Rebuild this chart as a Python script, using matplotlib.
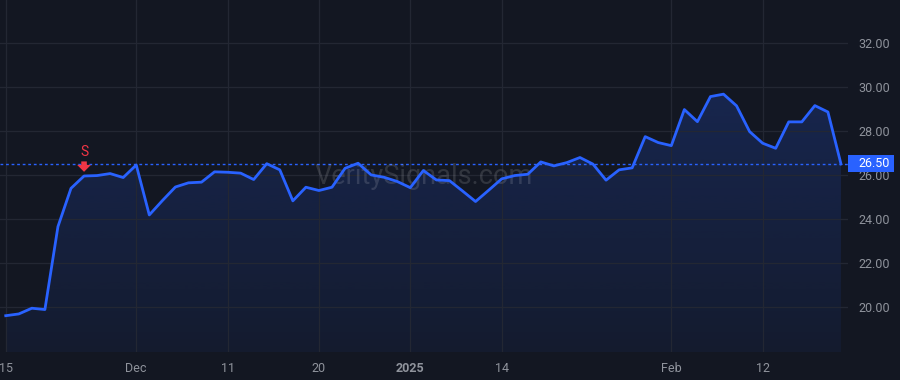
import matplotlib
matplotlib.use("Agg")
import matplotlib.pyplot as plt
import matplotlib.transforms as mtransforms
from matplotlib.patches import Rectangle
from matplotlib.colors import to_rgb
import numpy as np
import pandas as pd

# trading days shown (US market holidays skipped)
start_date = "2024-11-15"
end_date = "2025-02-21"
holidays = ["2024-11-28", "2024-12-25", "2025-01-01", "2025-01-09", "2025-01-20", "2025-02-17"]

closes = [19.60, 19.68, 19.94, 19.88, 23.65, 25.39, 25.95, 25.97, 26.06, 25.88,
          26.45, 24.18, 24.83, 25.45, 25.64, 25.67, 26.14, 26.12, 26.08, 25.79,
          26.51, 26.23, 24.82, 25.44, 25.29, 25.44, 26.30, 26.53, 26.00, 25.89,
          25.70, 25.42, 26.20, 25.77, 25.74, 25.27, 24.79, 25.30, 25.82, 25.97,
          26.03, 26.59, 26.41, 26.56, 26.79, 26.49, 25.76, 26.23, 26.32, 27.74,
          27.47, 27.33, 28.97, 28.42, 29.56, 29.67, 29.14, 27.97, 27.44, 27.21,
          28.41, 28.41, 29.15, 28.86, 26.50]

tick_dates = ["2024-11-15", "2024-12-02", "2024-12-11", "2024-12-20", "2025-01-02",
              "2025-01-14", "2025-02-03", "2025-02-12"]
tick_labels = ["15", "Dec", "11", "20", "2025", "14", "Feb", "12"]

y_ticks = [20, 22, 24, 26, 28, 30, 32]
signal_date = "2024-11-25"
signal_text = "S"
last_price = 26.50

BG = "#131722"
BLUE = "#2962ff"
RED = "#f23645"
GRID = "#232733"
TXT = "#8f939c"

dates = pd.bdate_range(start_date, end_date, freq="C", holidays=holidays)
x = np.arange(len(dates))
y = np.array(closes)

plt.rcParams["font.family"] = ["Roboto", "DejaVu Sans"]

fig = plt.figure(figsize=(9, 3.8), dpi=100, facecolor=BG)
ax = fig.add_axes([0, 28 / 380, 848 / 900, 352 / 380])
ax.set_facecolor(BG)

ax.set_xlim(-0.44, 64.54)
ax.set_ylim(17.95, 33.95)

# gradient fill under the line
poly = ax.fill_between(x, y, ax.get_ylim()[0], color="none", lw=0)
r, g, b = to_rgb(BLUE)
grad = np.zeros((256, 1, 4))
grad[:, 0, 0], grad[:, 0, 1], grad[:, 0, 2] = r, g, b
grad[:, 0, 3] = np.linspace(0.2, 0.06, 256)
im = ax.imshow(grad, aspect="auto", extent=[x[0], x[-1], ax.get_ylim()[0], y.max()],
               origin="upper", zorder=1)
im.set_clip_path(poly.get_paths()[0], transform=ax.transData)

ax.plot(x, y, color=BLUE, lw=2, zorder=3, solid_joinstyle="round")
ax.axhline(last_price, color=BLUE, lw=1, ls=(0, (2, 2)), zorder=2)

# grid + ticks
ax.set_yticks(y_ticks)
ax.set_yticklabels([f"{v:.2f}" for v in y_ticks])
date_idx = {d.strftime("%Y-%m-%d"): i for i, d in enumerate(dates)}
ax.set_xticks([date_idx[d] for d in tick_dates])
ax.set_xticklabels(tick_labels)
for lbl in ax.get_xticklabels():
    if lbl.get_text() == "2025":
        lbl.set_fontweight("bold")
ax.grid(True, color=GRID, lw=0.9)
ax.yaxis.tick_right()
ax.tick_params(axis="y", length=0, pad=7.5, labelsize=9, labelcolor=TXT)
ax.tick_params(axis="x", length=0, pad=7, labelsize=9, labelcolor=TXT)
for s in ax.spines.values():
    s.set_visible(False)

# watermark
ax.text(0.5, 0.5, "VeritySignals.com", transform=ax.transAxes, ha="center", va="center",
        fontsize=19.5, color="white", alpha=0.13, zorder=2)

# sell signal
si = date_idx[signal_date]
ax.annotate("", xy=(si, y[si]), xytext=(0, 10.5), textcoords="offset points",
            arrowprops=dict(arrowstyle="simple,head_length=0.5,head_width=1.0,tail_width=0.4",
                            color=RED, lw=0, mutation_scale=10, shrinkA=0, shrinkB=3),
            zorder=4)
ax.annotate(signal_text, xy=(si, y[si]), xytext=(0, 17), textcoords="offset points",
            ha="center", va="center", color=RED, fontsize=10, zorder=4)

# last price label on the right scale
trans = mtransforms.blended_transform_factory(ax.transAxes, ax.transData)
half_h = 8.4 / 22
ax.add_patch(Rectangle((1.0, last_price - half_h), 46 / 848, 2 * half_h, transform=trans,
                       fc=BLUE, ec="none", clip_on=False, zorder=5))
ax.text(1.0 + 10 / 848, last_price, f"{last_price:.2f}", transform=trans, ha="left", va="center",
        color="white", fontsize=9, zorder=6)

fig.savefig("out.png", dpi=100, facecolor=BG)
